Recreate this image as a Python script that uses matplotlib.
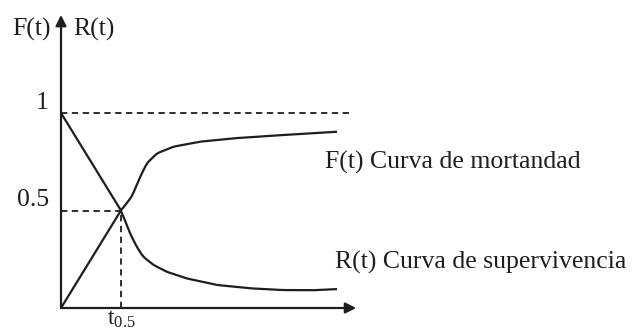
import matplotlib
matplotlib.use("Agg")
import matplotlib.pyplot as plt
import numpy as np

plt.rcParams['font.family'] = ['Liberation Serif', 'DejaVu Serif']

# curve points (t0.5 = 1)
t_F = [0.0, 1.0, 1.18, 1.32, 1.43, 1.6, 1.87, 2.32, 2.87, 3.43, 3.98, 4.6]
F_vals = [0.0, 0.5, 0.571, 0.673, 0.742, 0.793, 0.827, 0.853, 0.870, 0.882, 0.892, 0.904]

t_R = [0.0, 1.0, 1.15, 1.26, 1.37, 1.54, 1.76, 2.09, 2.6, 3.15, 3.7, 4.2, 4.6]
R_vals = [1.0, 0.5, 0.383, 0.315, 0.263, 0.221, 0.186, 0.152, 0.118, 0.101, 0.092, 0.091, 0.097]

ytick_vals = [1, 0.5]
ytick_labels = ['1', '0.5']
t_half = 1.0

ink = '#1e1e1e'

fig = plt.figure(figsize=(6.34, 3.31), dpi=100)
ax = fig.add_axes([0, 0, 1, 1])
ax.set_xlim(-61 / 60, 573 / 60)
ax.set_ylim(-23 / 195, 308 / 195)
ax.axis('off')

# axes with arrows
ax.annotate('', xy=(0, 1.503), xytext=(0, 0),
            arrowprops=dict(arrowstyle='-|>', color=ink, lw=1.6, mutation_scale=16, shrinkA=0, shrinkB=0))
ax.annotate('', xy=(4.92, 0), xytext=(0, 0),
            arrowprops=dict(arrowstyle='-|>', color=ink, lw=1.6, mutation_scale=16, shrinkA=0, shrinkB=0))

# dashed guides
ax.plot([0, 4.87], [1, 1], color=ink, lw=1.3, dashes=(3.5, 2.5))
ax.plot([0, t_half], [0.5, 0.5], color=ink, lw=1.3, dashes=(3.5, 2.5))
ax.plot([t_half, t_half], [0, 0.5], color=ink, lw=1.3, dashes=(3.5, 2.5))

# curves
def smooth(xs, ys, n=300):
    # dense linear + light averaging, keep the straight first segment
    xs = np.asarray(xs, float)
    ys = np.asarray(ys, float)
    xx = np.linspace(xs[1], xs[-1], n)
    yy = np.interp(xx, xs, ys)
    k = 7
    pad = np.pad(yy, (k // 2, k // 2), mode='edge')
    yy = np.convolve(pad, np.ones(k) / k, mode='valid')
    yy[0] = ys[1]
    return np.concatenate([[xs[0]], xx]), np.concatenate([[ys[0]], yy])

fx, fy = smooth(t_F, F_vals)
rx, ry = smooth(t_R, R_vals)
ax.plot(fx, fy, color=ink, lw=1.6, solid_capstyle='butt')
ax.plot(rx, ry, color=ink, lw=1.6, solid_capstyle='butt')

# labels
fs = 18.5
for v, lab in zip(ytick_vals, ytick_labels):
    ax.text(-0.2, v - 0.005, lab, ha='right', va='bottom', fontsize=fs, color=ink)
ax.text(-0.17, 1.43, 'F(t)', ha='right', va='center', fontsize=fs, color=ink)
ax.text(0.2, 1.43, 'R(t)', ha='left', va='center', fontsize=fs, color=ink)
ax.text(t_half, -0.112, r'$\mathregular{t_{0.5}}$', ha='center', va='bottom', fontsize=17, color=ink)
ax.text(4.4, 0.745, 'F(t) Curva de mortandad', ha='left', va='center', fontsize=fs, color=ink)
ax.text(4.57, 0.236, 'R(t) Curva de supervivencia', ha='left', va='center', fontsize=fs, color=ink)

fig.savefig('out.png', dpi=100)
